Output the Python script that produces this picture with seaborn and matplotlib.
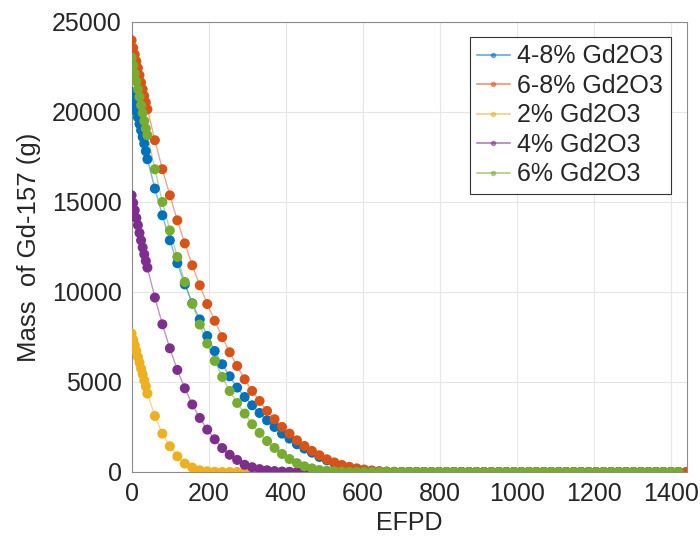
import matplotlib
matplotlib.use("Agg")
import matplotlib.pyplot as plt
import seaborn as sns
import pandas as pd
from matplotlib.lines import Line2D

# EFPD time grid (days)
efpd = [0, 4.1, 8.2, 12.3, 16.4, 20.5, 24.6, 28.7, 32.8, 36.9, 41.0,
        60.4, 79.8, 99.2, 118.6, 138.0, 157.4, 176.8, 196.2, 215.6, 235.0,
        254.4, 273.8, 293.2, 312.6, 332.0, 351.4, 370.8, 390.2, 409.6, 429.0,
        448.4, 467.8, 487.2, 506.6, 526.0, 545.4, 564.8, 584.2, 603.6, 623.0,
        642.4, 661.8, 681.2, 700.6, 720.0, 739.4, 758.8, 778.2, 797.6, 817.0,
        836.4, 855.8, 875.2, 894.6, 914.0, 933.4, 952.8, 972.2, 991.6, 1011.0,
        1030.4, 1049.8, 1069.2, 1088.6, 1108.0, 1127.4, 1146.8, 1166.2, 1185.6, 1205.0,
        1224.4, 1243.8, 1263.2, 1282.6, 1302.0, 1321.4, 1340.8, 1360.2, 1379.6, 1399.0,
        1418.4, 1437.8]

gd_4_8 = [21110, 20745, 20410, 20040, 19705, 19335, 18985, 18610, 18245, 17820, 17375,
          15745, 14260, 12870, 11600, 10420, 9370, 8475, 7555, 6720, 5985,
          5315, 4690, 4165, 3705, 3280, 2870, 2500, 2130, 1855, 1540,
          1300, 1075, 835, 650, 480, 340, 230, 150, 90, 50,
          20, 10, 0, 0, 0, 0, 0, 0, 0, 0,
          0, 0, 0, 0, 0, 0, 0, 0, 0, 0,
          0, 0, 0, 0, 0, 0, 0, 0, 0, 0,
          0, 0, 0, 0, 0, 0, 0, 0, 0, 0,
          0]

gd_6_8 = [23985, 23555, 23190, 22820, 22445, 22040, 21635, 21260, 20890, 20525, 20150,
          18430, 16820, 15370, 13980, 12700, 11480, 10370, 9330, 8400, 7490,
          6650, 5890, 5150, 4500, 3945, 3390, 2930, 2500, 2130, 1760,
          1445, 1170, 930, 705, 530, 390, 285, 200, 135, 85,
          50, 25, 10, 0, 0, 0, 0, 0, 0, 0,
          0, 0, 0, 0, 0, 0, 0, 0, 0, 0,
          0, 0, 0, 0, 0, 0, 0, 0, 0, 0,
          0, 0, 0, 0, 0, 0, 0, 0, 0, 0,
          0, 0]

gd_2 = [7690, 7355, 7040, 6720, 6390, 6080, 5745, 5430, 5095, 4760, 4355,
        3110, 2130, 1430, 870, 465, 245, 95, 40, 10, 0,
        0, 0, 0, 0, 0, 0, 0, 0, 0, 0,
        0, 0, 0, 0, 0, 0, 0, 0, 0, 0,
        0, 0, 0, 0, 0, 0, 0, 0, 0, 0,
        0, 0, 0, 0, 0, 0, 0, 0, 0, 0,
        0, 0, 0, 0, 0, 0, 0, 0, 0, 0,
        0, 0, 0, 0, 0, 0, 0, 0, 0, 0,
        0]

gd_4 = [15370, 14950, 14540, 14110, 13710, 13280, 12870, 12470, 12095, 11720, 11355,
        9690, 8205, 6870, 5670, 4650, 3750, 3000, 2355, 1815, 1330,
        955, 670, 400, 265, 160, 95, 50, 25, 10, 0,
        0, 0, 0, 0, 0, 0, 0, 0, 0, 0,
        0, 0, 0, 0, 0, 0, 0, 0, 0, 0,
        0, 0, 0, 0, 0, 0, 0, 0, 0, 0,
        0, 0, 0, 0, 0, 0, 0, 0, 0, 0,
        0, 0, 0, 0, 0, 0, 0, 0, 0, 0,
        0]

gd_6 = [23025, 22595, 22135, 21705, 21260, 20835, 20375, 19945, 19500, 19080, 18710,
        16820, 15000, 13420, 11945, 10555, 9340, 8190, 7135, 6170, 5280,
        4500, 3835, 3245, 2650, 2170, 1720, 1335, 1000, 720, 490,
        315, 200, 110, 70, 40, 20, 10, 0, 0, 0,
        0, 0, 0, 0, 0, 0, 0, 0, 0, 0,
        0, 0, 0, 0, 0, 0, 0, 0, 0, 0,
        0, 0, 0, 0, 0, 0, 0, 0, 0, 0,
        0, 0, 0, 0, 0, 0, 0, 0, 0, 0,
        0]

labels = ["4-8% Gd2O3", "6-8% Gd2O3", "2% Gd2O3", "4% Gd2O3", "6% Gd2O3"]
series = [gd_4_8, gd_6_8, gd_2, gd_4, gd_6]
colors = ["#0072BD", "#D95319", "#EDB120", "#7E2F8E", "#77AC30"]

frames = []
for lab, vals in zip(labels, series):
    frames.append(pd.DataFrame({"EFPD": efpd[:len(vals)], "mass": vals, "case": lab}))
df = pd.concat(frames, ignore_index=True)

sns.set_theme(style="whitegrid")
plt.rcParams["font.family"] = ["Liberation Sans", "DejaVu Sans"]

fig = plt.figure(figsize=(7.0, 5.43), dpi=100)
ax = fig.add_axes([0.188, 0.1308, 0.793, 0.8287])

palette = dict(zip(labels, colors))
# thin translucent connecting lines
sns.lineplot(data=df, x="EFPD", y="mass", hue="case", palette=palette,
             hue_order=labels, linewidth=1.0, alpha=0.5, legend=False, ax=ax,
             sort=False, estimator=None)
# filled markers
for lab in labels:
    sub = df[df["case"] == lab]
    sns.scatterplot(data=sub, x="EFPD", y="mass", color=palette[lab], s=52,
                    edgecolor="none", linewidth=0, legend=False, ax=ax, zorder=3)

ax.set_xlim(0, 1440)
ax.set_ylim(0, 25000)
ax.set_xticks([0, 200, 400, 600, 800, 1000, 1200, 1400])
ax.set_yticks([0, 5000, 10000, 15000, 20000, 25000])
ax.set_facecolor("white")
ax.grid(True, color="#e6e6e6", linewidth=0.8)
for sp in ax.spines.values():
    sp.set_visible(True)
    sp.set_color("#8c8c8c")
    sp.set_linewidth(0.8)
ax.tick_params(axis="both", which="both", direction="in", length=4, color="#8c8c8c",
               labelsize=18, labelcolor="#262626", pad=7)
ax.set_xlabel("EFPD", fontsize=18, color="#262626", labelpad=4)
ax.set_ylabel("Mass  of Gd-157 (g)", fontsize=18.5, color="#262626", labelpad=8)

handles = [Line2D([0], [0], color=c, alpha=0.5, linewidth=1.5, marker="o",
                  markersize=3, markerfacecolor=c, markeredgecolor=c)
           for c in colors]
leg = ax.legend(handles, labels, loc="upper right", fontsize=18, frameon=True,
                fancybox=False, edgecolor="#333333", framealpha=1,
                handlelength=1.3, handletextpad=0.3, borderpad=0.3,
                labelspacing=0.22, borderaxespad=0,
                bbox_to_anchor=(0.971, 0.967))
leg.get_frame().set_linewidth(0.8)

fig.savefig("out.png", dpi=100)
